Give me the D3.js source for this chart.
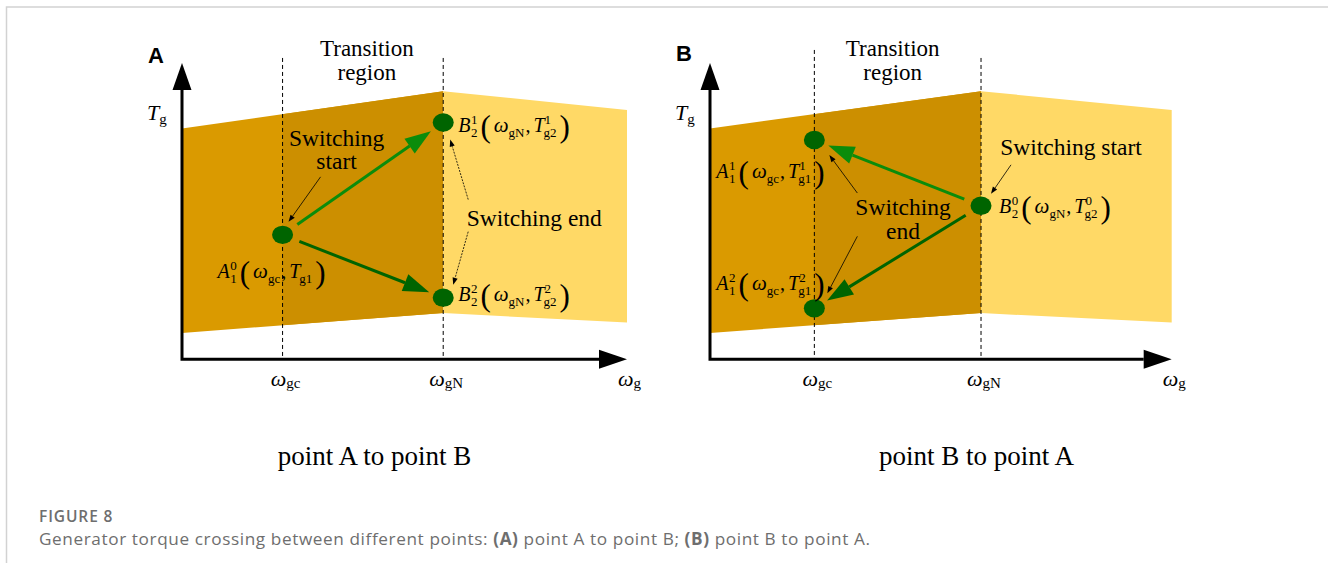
<!DOCTYPE html>
<html>
<head>
<meta charset="utf-8">
<script src="https://cdn.jsdelivr.net/npm/d3@7"></script>
<style>
  body { margin: 0; background: #fff; }
  svg { display: block; }
  text { font-family: "Liberation Serif", "Times New Roman", serif; fill: #000; }
  .sans { font-family: "Liberation Sans", Arial, sans-serif; }
  .cap { font-family: "Open Sans", "Noto Sans", sans-serif; fill: #6e6e6e; }
</style>
</head>
<body>
<svg id="fig" width="1328" height="563"></svg>
<script>
// Operating band of generator torque T_g against generator speed w_g (abstract units, 0-10)
const bandOmega = [0, 5.87, 10];        // left edge, rated speed w_gN, right edge
const bandUpper = [7.79, 9.05, 8.41];   // upper torque limit at those speeds
const bandLower = [0.89, 1.56, 1.24];   // lower torque limit at those speeds
const omegaGc = 2.26;                   // start of transition region
const omegaGN = 5.87;                   // end of transition region (rated speed)
const axisMax = 10;

// Operating points of each panel
const pointsA = [
  { id: "A0", omega: 2.26, torque: 4.20 },
  { id: "B1", omega: 5.87, torque: 7.99 },
  { id: "B2", omega: 5.87, torque: 2.08 }
];
const pointsB = [
  { id: "A1", omega: 2.26, torque: 7.40 },
  { id: "B0", omega: 5.87, torque: 5.18 },
  { id: "A2", omega: 2.26, torque: 1.72 }
];
// Switching moves: source and target point index
const movesA = [ { from: 0, to: 1, tone: "light" }, { from: 0, to: 2, tone: "dark" } ];
const movesB = [ { from: 1, to: 0, tone: "light" }, { from: 1, to: 2, tone: "dark" } ];

const tickLabels = [ { omega: 2.26, sub: "gc" }, { omega: 5.87, sub: "gN" } ];
const panelLetters = ["A", "B"];
const panelTitles = ["point A to point B", "point B to point A"];

// Symbol parts for each point label: X_sub^sup ( w_wsub , T_tsub^tsup )
const pointSymbols = {
  A0: { base: "A", sub: "1", sup: "0", wsub: "gc", tsub: "g1", tsup: "" },
  B1: { base: "B", sub: "2", sup: "1", wsub: "gN", tsub: "g2", tsup: "1" },
  B2: { base: "B", sub: "2", sup: "2", wsub: "gN", tsub: "g2", tsup: "2" },
  A1: { base: "A", sub: "1", sup: "1", wsub: "gc", tsub: "g1", tsup: "1" },
  B0: { base: "B", sub: "2", sup: "0", wsub: "gN", tsub: "g2", tsup: "0" },
  A2: { base: "A", sub: "1", sup: "2", wsub: "gc", tsub: "g1", tsup: "2" }
};

const C = {
  left: "#da9a00", mid: "#cc8f00", right: "#ffd966",
  dot: "#006400", light: "#0b8c0b", dark: "#006400"
};

const svg = d3.select("#fig");

// outer frame
svg.append("path")
  .attr("d", "M6.5,563 V7 H1328")
  .attr("fill", "none").attr("stroke", "#d2d2d2").attr("stroke-width", 1.5);

function mathLabel(sel, x, y, s) {
  const g = sel.append("g");
  let cx = x;
  const put = (txt, px, py, size, italic) => g.append("text")
    .attr("x", px).attr("y", py).attr("font-size", size)
    .attr("font-style", italic ? "italic" : "normal").text(txt);
  const w = t => t.node().getComputedTextLength();
  let t = put(s.base, cx, y, 20, true); cx += w(t) + 0.5;
  let a = put(s.sup, cx, y - 8, 13), b = put(s.sub, cx, y + 5, 13);
  cx += Math.max(w(a), w(b)) + 3;
  t = put("(", cx, y + 5, 31); cx += w(t) + 3;
  t = put("\u03C9", cx, y, 21, true); cx += w(t);
  t = put(s.wsub, cx, y + 5, 13); cx += w(t) + 1;
  t = put(",", cx, y, 20); cx += w(t) + 3;
  t = put("T", cx, y, 20, true); cx += w(t) - 1;
  let wsup = 0;
  if (s.tsup) { a = put(s.tsup, cx + 1, y - 8, 13); wsup = w(a) + 1; }
  b = put(s.tsub, cx, y + 5, 13);
  cx += Math.max(wsup, w(b)) + 3;
  put(")", cx, y + 5, 31);
}

function arrowHead(g, x0, y0, x1, y1, len, half, color) {
  const dx = x1 - x0, dy = y1 - y0, L = Math.hypot(dx, dy);
  const ux = dx / L, uy = dy / L;
  const bx = x1 - ux * len, by = y1 - uy * len;
  g.append("path")
    .attr("d", `M${x1},${y1} L${bx - uy * half},${by + ux * half} L${bx + uy * half},${by - ux * half} Z`)
    .attr("fill", color);
  return [bx, by];
}

function pointer(g, x0, y0, x1, y1, dashed) {
  const [bx, by] = arrowHead(g, x0, y0, x1, y1, 7, 2.6, "#000");
  g.append("line").attr("x1", x0).attr("y1", y0).attr("x2", bx).attr("y2", by)
    .attr("stroke", "#000").attr("stroke-width", 0.8)
    .attr("stroke-dasharray", dashed ? "2,1.2" : null);
}

function drawPanel(k, xRange, points, moves, place) {
  const x = d3.scaleLinear().domain([0, axisMax]).range(xRange);
  const y = d3.scaleLinear().domain([0, axisMax]).range([359.3, 63]);
  const g = svg.append("g");

  const upper = bandOmega.map((w, i) => [x(w), y(bandUpper[i])]);
  const lower = bandOmega.map((w, i) => [x(w), y(bandLower[i])]);
  const poly = (i0, i1) => [upper[i0], upper[i1], lower[i1], lower[i0]];
  const line = d3.line();

  // left (constant-speed) zone, then rated zone
  g.append("path").attr("d", line(poly(0, 1)) + "Z").attr("fill", C.left);
  g.append("path").attr("d", line(poly(1, 2)) + "Z").attr("fill", C.right);
  // transition region shading, clipped to [w_gc, w_gN]
  const clipId = "clip" + k;
  svg.append("clipPath").attr("id", clipId).append("rect")
    .attr("x", x(omegaGc)).attr("y", 0)
    .attr("width", x(omegaGN) - x(omegaGc)).attr("height", 563);
  g.append("path").attr("d", line(poly(0, 1)) + "Z").attr("fill", C.mid)
    .attr("clip-path", `url(#${clipId})`);

  // dashed speed markers
  const dashTop = [k ? 10.44 : 10.17, 10.17];
  [omegaGc, omegaGN].forEach((w, i) => {
    g.append("line").attr("x1", x(w)).attr("x2", x(w))
      .attr("y1", y(dashTop[i])).attr("y2", y(0))
      .attr("stroke", "#000").attr("stroke-width", 1).attr("stroke-dasharray", "4,3");
  });

  // axes with arrow heads
  const x0 = x(0), y0 = y(0);
  const [xb] = arrowHead(g, x0, y0, x(axisMax), y0, 28, 9.5, "#000");
  const [, yb] = arrowHead(g, x0, y0, x0, y(axisMax), 27, 9.5, "#000");
  g.append("path").attr("d", `M${xb},${y0} H${x0} V${yb}`)
    .attr("fill", "none").attr("stroke", "#000").attr("stroke-width", 3);

  // switching moves
  moves.forEach(m => {
    const p = points[m.from], q = points[m.to];
    const px = x(p.omega), py = y(p.torque), qx = x(q.omega), qy = y(q.torque);
    const L = Math.hypot(qx - px, qy - py), ux = (qx - px) / L, uy = (qy - py) / L;
    const sx = px + ux * 18, sy = py + uy * 18, tx = qx - ux * 15, ty = qy - uy * 15;
    const col = C[m.tone];
    const [bx, by] = arrowHead(g, sx, sy, tx, ty, 26, 9, col);
    g.append("line").attr("x1", sx).attr("y1", sy).attr("x2", bx).attr("y2", by)
      .attr("stroke", col).attr("stroke-width", 3);
  });

  // operating points
  g.selectAll("ellipse.pt").data(points).join("ellipse").attr("class", "pt")
    .attr("cx", d => x(d.omega)).attr("cy", d => y(d.torque))
    .attr("rx", 10.5).attr("ry", 9.2).attr("fill", C.dot);

  const P = {};
  points.forEach(d => { P[d.id] = [x(d.omega), y(d.torque)]; });
  points.forEach(d => {
    const o = place.labels[d.id];
    mathLabel(g, P[d.id][0] + o[0], P[d.id][1] + o[1], pointSymbols[d.id]);
  });

  // annotation text and pointers
  place.notes(g, P);

  // axis labels
  g.append("text").attr("class", "sans").attr("x", x0 - 34).attr("y", k ? 61 : 63)
    .attr("font-size", 22).attr("font-weight", "bold").text(panelLetters[k]);
  const tg = g.append("text").attr("x", x0 - 35).attr("y", 120).attr("font-size", 22);
  tg.append("tspan").attr("font-style", "italic").text("T");
  tg.append("tspan").attr("font-size", 15).attr("dy", 4).text("g");

  tickLabels.forEach(t => {
    const tt = g.append("text").attr("x", x(t.omega) + 3).attr("y", 386)
      .attr("text-anchor", "middle").attr("font-size", 22);
    tt.append("tspan").attr("font-style", "italic").text("\u03C9");
    tt.append("tspan").attr("font-size", 15).attr("dy", 2).text(t.sub);
  });
  const wg = g.append("text").attr("x", x(axisMax) - 9).attr("y", 386).attr("font-size", 22);
  wg.append("tspan").attr("font-style", "italic").text("\u03C9");
  wg.append("tspan").attr("font-size", 15).attr("dy", 2).text("g");

  const midX = (x(omegaGc) + x(omegaGN)) / 2 + (k ? -5 : 4);
  g.append("text").attr("x", midX).attr("y", 56).attr("text-anchor", "middle")
    .attr("font-size", 23).text("Transition");
  g.append("text").attr("x", midX).attr("y", 80).attr("text-anchor", "middle")
    .attr("font-size", 23).text("region");

  g.append("text").attr("x", place.titleX).attr("y", 465).attr("text-anchor", "middle")
    .attr("font-size", 27).text(panelTitles[k]);
}

function note(g, lines, cx, y0, step) {
  lines.forEach((s, i) => g.append("text").attr("x", cx).attr("y", y0 + i * step)
    .attr("text-anchor", "middle").attr("font-size", 23.5).text(s));
}

drawPanel(0, [182, 627], pointsA, movesA, {
  titleX: 374.5,
  labels: { A0: [-65, 43], B1: [15, 9], B2: [15, 3] },
  notes: (g, P) => {
    const a = P.A0, b1 = P.B1, b2 = P.B2;
    note(g, ["Switching", "start"], a[0] + 54, a[1] - 89, 23.5);
    pointer(g, a[0] + 38, a[1] - 58, a[0] + 6, a[1] - 13, false);
    g.append("text").attr("x", b1[0] + 23.5).attr("y", 226).attr("font-size", 23.5).text("Switching end");
    pointer(g, b1[0] + 25, b1[1] + 77, b1[0] + 7, b1[1] + 17, true);
    pointer(g, b2[0] + 25, b2[1] - 66, b2[0] + 10, b2[1] - 13, true);
  }
});

drawPanel(1, [710, 1171.7], pointsB, movesB, {
  titleX: 976.5,
  labels: { A1: [-98, 38], B0: [18, 7.6], A2: [-98, -18] },
  notes: (g, P) => {
    const b = P.B0, a1 = P.A1, a2 = P.A2;
    note(g, ["Switching start"], b[0] + 90, b[1] - 51, 0);
    pointer(g, b[0] + 30, b[1] - 41, b[0] + 10, b[1] - 12, false);
    note(g, ["Switching", "end"], b[0] - 78, b[1] + 9.5, 24);
    pointer(g, a1[0] + 43, a1[1] + 53, a1[0] + 15, a1[1] + 15, false);
    pointer(g, a2[0] + 43, a2[1] - 72, a2[0] + 13, a2[1] - 15, false);
  }
});

// figure caption
svg.append("text").attr("class", "cap").attr("x", 39).attr("y", 522)
  .attr("font-size", 15.5).attr("font-weight", 600).attr("letter-spacing", 0.9).text("FIGURE 8");
const cap = svg.append("text").attr("class", "cap").attr("x", 39).attr("y", 545)
  .attr("font-size", 17.2).attr("letter-spacing", 0.6);
[["Generator torque crossing between different points: ", 400], ["(A)", 700], [" point A to point B; ", 400],
 ["(B)", 700], [" point B to point A.", 400]].forEach(([s, wt]) =>
  cap.append("tspan").attr("font-weight", wt).text(s));
</script>
</body>
</html>
